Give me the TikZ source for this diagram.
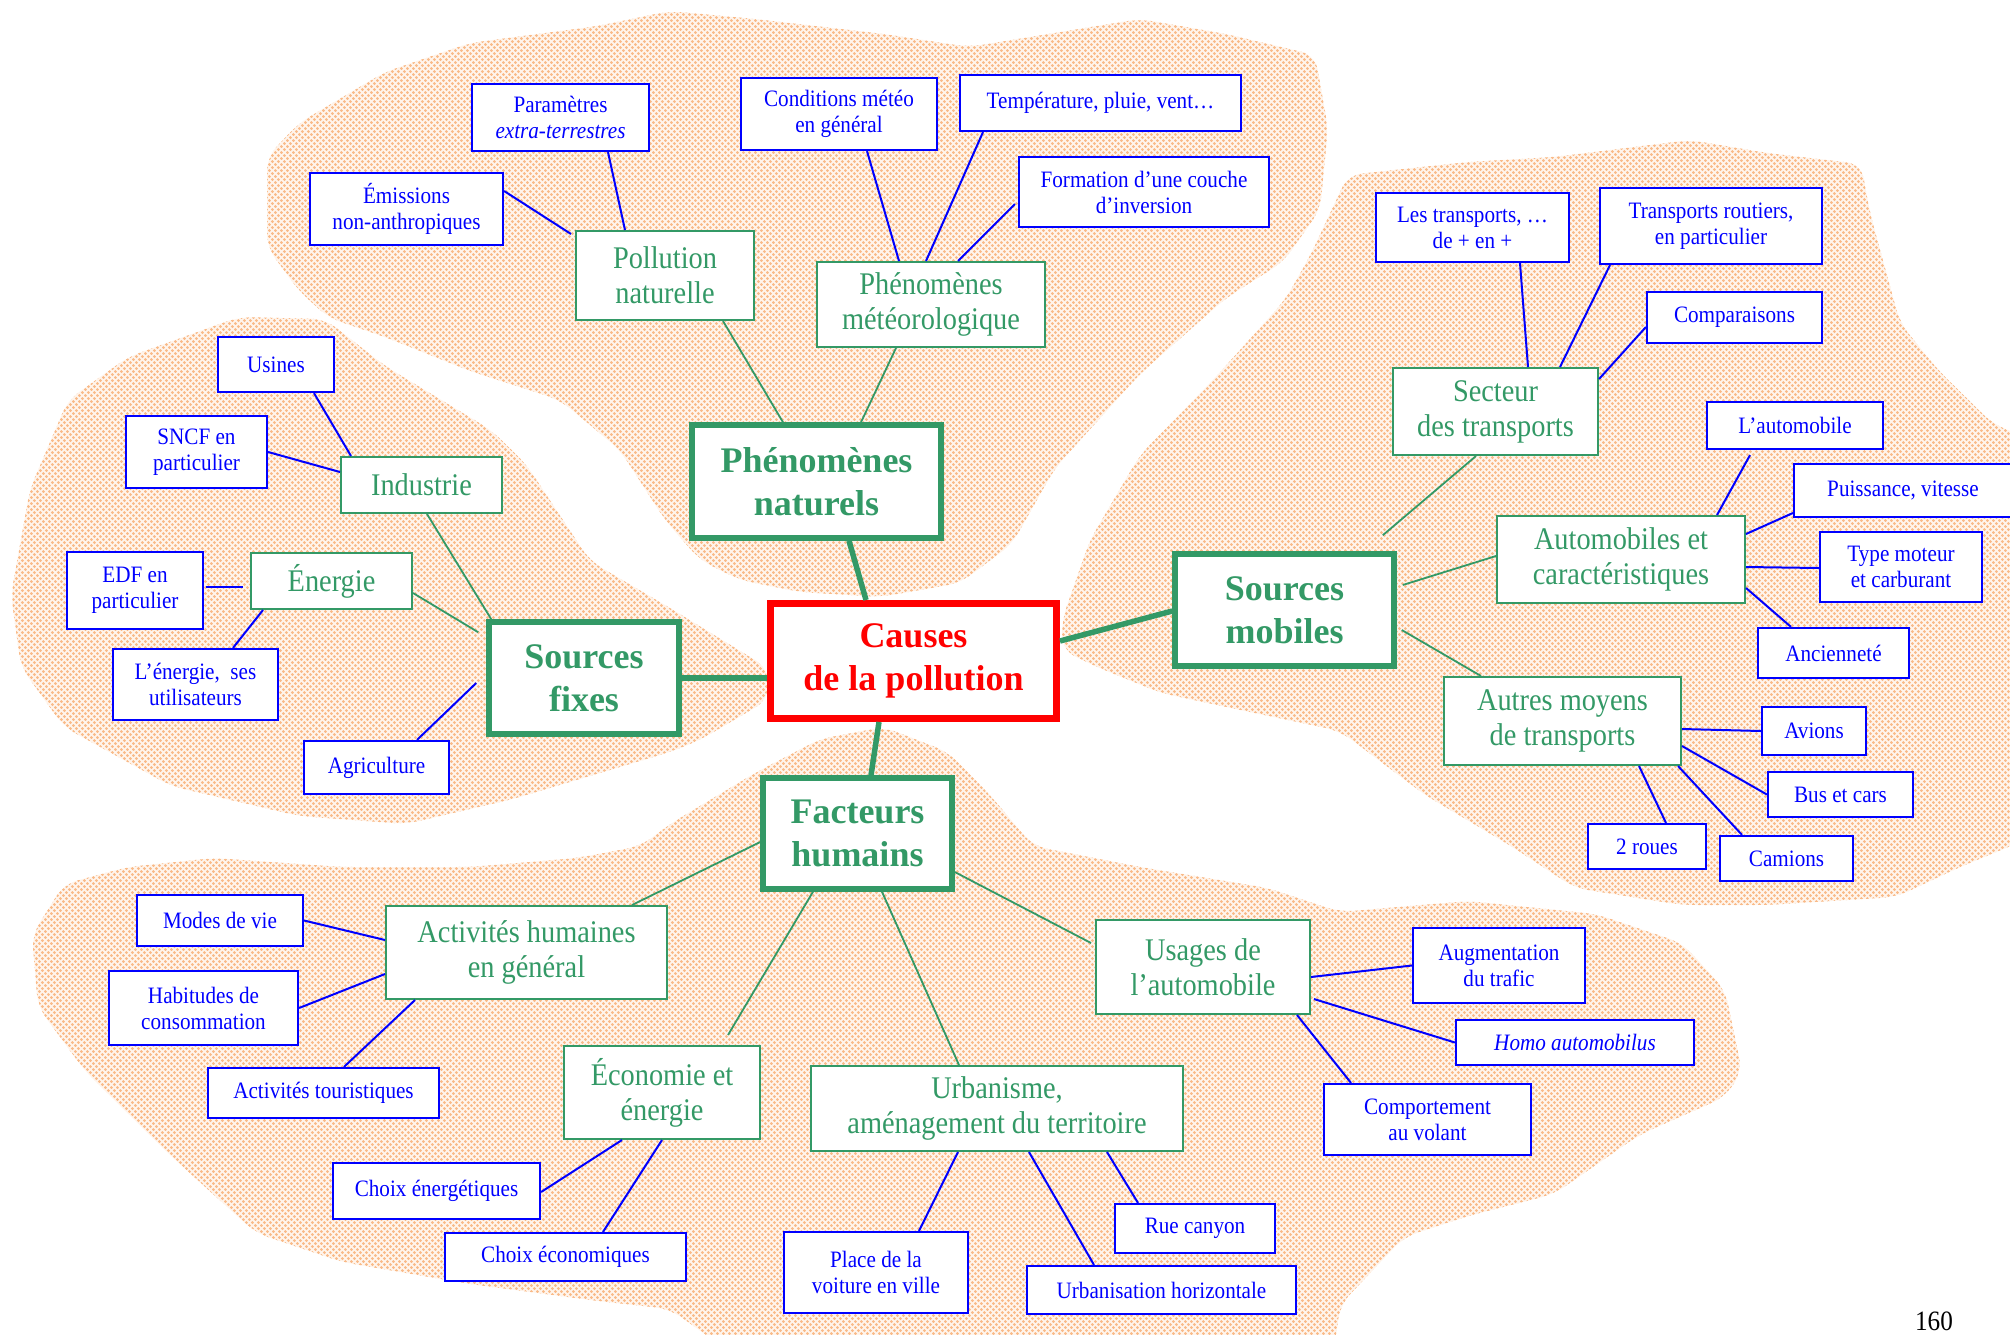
\documentclass[tikz,border=0pt]{standalone}
\usepackage{fontspec}
\setmainfont{Liberation Serif}
\newfontfamily\condser[FakeStretch=0.9]{Liberation Serif}
\usetikzlibrary{calc,patterns}
\definecolor{bluec}{RGB}{0,0,255}
\definecolor{greenc}{RGB}{51,153,102}
\definecolor{redc}{RGB}{255,0,0}
\definecolor{dotc}{RGB}{249,186,136}
\definecolor{blobbase}{RGB}{255,244,235}
\pgfdeclarepatternformonly{odots}{\pgfpoint{0pt}{0pt}}{\pgfpoint{6.4pt}{6.4pt}}{\pgfpoint{6.4pt}{6.4pt}}{\pgfpathcircle{\pgfpoint{1.6pt}{1.6pt}}{1.65pt}\pgfpathcircle{\pgfpoint{4.8pt}{4.8pt}}{1.65pt}\pgfusepath{fill}}
\newcommand\myblue{\condser\fontsize{23.5}{26}\selectfont}
\newcommand\mygreen{\condser\fontsize{31.5}{35}\selectfont}
\newcommand\mybig{\bfseries\fontsize{36}{42.5}\selectfont}
\tikzset{
  blob/.style={fill=blobbase, rounded corners=14pt, postaction={pattern=odots, pattern color=dotc}},
  bl/.style={draw=bluec, line width=2.2pt, fill=white, inner sep=0pt, align=center, text=bluec, font=\myblue},
  gr/.style={draw=greenc, line width=2pt, fill=white, inner sep=0pt, align=center, text=greenc, font=\mygreen},
  bigbox/.style={draw=greenc, line width=5.5pt, fill=white, inner sep=0pt, align=center, text=greenc, font=\mybig},
  causebox/.style={draw=redc, line width=7pt, fill=white, inner sep=0pt, align=center, text=redc, font=\mybig},
  bline/.style={draw=bluec, line width=2pt},
  gline/.style={draw=greenc, line width=1.8pt},
  tline/.style={draw=greenc, line width=5.5pt},
}
\begin{document}
\begin{tikzpicture}[x=1pt,y=-1pt]
\useasboundingbox (0,0) rectangle (2010,1334);
% background blobs
\path[blob] (267,157) -- (299,123) -- (385,72) -- (470,43) -- (598,26) -- (670,11) -- (755,19) -- (884,34) -- (969,47) -- (1140,19) -- (1226,34) -- (1315,55) -- (1328,128) -- (1320,210) -- (1283,262) -- (1226,298) -- (1140,374) -- (1055,468) -- (1012,544) -- (960,583) -- (880,597) -- (800,592) -- (740,580) -- (700,560) -- (665,520) -- (620,450) -- (560,400) -- (470,371) -- (385,337) -- (329,318) -- (299,291) -- (267,247) -- cycle;
\path[blob] (68,400) -- (128,357) -- (239,317) -- (325,319) -- (385,366) -- (491,430) -- (526,464) -- (590,561) -- (670,608) -- (768,668) -- (768,700) -- (700,740) -- (670,752) -- (513,799) -- (406,824) -- (299,816) -- (171,786) -- (64,727) -- (21,667) -- (11,595) -- (30,489) -- cycle;
\path[blob] (1348,175) -- (1468,162) -- (1554,157) -- (1690,140) -- (1767,153) -- (1861,164) -- (1870,213) -- (1900,323) -- (1938,370) -- (1994,425) -- (2030,438) -- (2030,838) -- (1960,867) -- (1896,897) -- (1767,905) -- (1682,905) -- (1575,888) -- (1511,846) -- (1425,795) -- (1340,731) -- (1250,712) -- (1161,693) -- (1097,667) -- (1062,650) -- (1062,620) -- (1090,540) -- (1140,455) -- (1213,380) -- (1285,300) -- (1310,256) -- cycle;
\path[blob] (64,884) -- (128,867) -- (214,858) -- (342,867) -- (470,867) -- (577,858) -- (641,846) -- (670,824) -- (755,773) -- (820,739) -- (884,727) -- (948,752) -- (990,795) -- (1033,846) -- (1140,867) -- (1268,888) -- (1340,912) -- (1468,901) -- (1596,914) -- (1682,943) -- (1725,990) -- (1742,1071) -- (1725,1097) -- (1639,1135) -- (1554,1194) -- (1468,1216) -- (1404,1237) -- (1340,1305) -- (1335,1345) -- (720,1345) -- (670,1309) -- (598,1301) -- (470,1284) -- (342,1262) -- (256,1233) -- (171,1156) -- (85,1071) -- (38,1007) -- (32,935) -- cycle;
% blue boxes
\node[bl, minimum width=177, minimum height=67] (par) at (560.5,117.5) {Paramètres\\\textit{extra-terrestres}};
\node[bl, minimum width=193, minimum height=72] (emi) at (406.5,209) {Émissions\\non-anthropiques};
\node[bl, minimum width=196, minimum height=72] (cond) at (839,114) {Conditions météo\\en général};
\node[bl, minimum width=281, minimum height=56] (temp) at (1100.5,103) {Température, pluie, vent…};
\node[bl, minimum width=250, minimum height=70] (form) at (1144,192) {Formation d’une couche\\d’inversion};
\node[bl, minimum width=116, minimum height=55] (usines) at (276,364.5) {Usines};
\node[bl, minimum width=141, minimum height=72] (sncf) at (196.5,452) {SNCF en\\particulier};
\node[bl, minimum width=136, minimum height=77] (edf) at (135,590.5) {EDF en\\particulier};
\node[bl, minimum width=165, minimum height=71] (lener) at (195.5,684.5) {L’énergie,\ \ ses\\utilisateurs};
\node[bl, minimum width=145, minimum height=53] (agri) at (376.5,767.5) {Agriculture};
\node[bl, minimum width=193, minimum height=69] (lestr) at (1472.5,227.5) {Les transports, …\\de + en +};
\node[bl, minimum width=222, minimum height=76] (troute) at (1711,226) {Transports routiers,\\en particulier};
\node[bl, minimum width=175, minimum height=51] (comp) at (1734.5,317.5) {Comparaisons};
\node[bl, minimum width=176, minimum height=47] (lauto) at (1795,425.5) {L’automobile};
\node[bl, minimum width=218, minimum height=53] (puiss) at (1903,490.5) {Puissance, vitesse};
\node[bl, minimum width=162, minimum height=70] (typem) at (1901,567) {Type moteur\\et carburant};
\node[bl, minimum width=151, minimum height=50] (ancien) at (1833.5,653) {Ancienneté};
\node[bl, minimum width=104, minimum height=48] (avions) at (1814,731) {Avions};
\node[bl, minimum width=145, minimum height=45] (bus) at (1840.5,794.5) {Bus et cars};
\node[bl, minimum width=118, minimum height=45] (roues) at (1647,846.5) {2 roues};
\node[bl, minimum width=133, minimum height=45] (camions) at (1786.5,858.5) {Camions};
\node[bl, minimum width=172, minimum height=75] (augm) at (1499,965.5) {Augmentation\\du trafic};
\node[bl, minimum width=238, minimum height=45] (homo) at (1575,1042.5) {\textit{Homo automobilus}};
\node[bl, minimum width=207, minimum height=71] (compor) at (1427.5,1119.5) {Comportement\\au volant};
\node[bl, minimum width=160, minimum height=49] (rue) at (1195,1228.5) {Rue canyon};
\node[bl, minimum width=269, minimum height=48] (urbh) at (1161.5,1290) {Urbanisation horizontale};
\node[bl, minimum width=184, minimum height=81] (place) at (876,1272.5) {Place de la\\voiture en ville};
\node[bl, minimum width=241, minimum height=48] (choixeco) at (565.5,1257) {Choix économiques};
\node[bl, minimum width=207, minimum height=56] (choixen) at (436.5,1191) {Choix énergétiques};
\node[bl, minimum width=231, minimum height=50] (tour) at (323.5,1093) {Activités touristiques};
\node[bl, minimum width=189, minimum height=74] (habit) at (203.5,1008) {Habitudes de\\consommation};
\node[bl, minimum width=166, minimum height=51] (modes) at (220,920.5) {Modes de vie};
% green boxes
\node[gr, minimum width=178, minimum height=89] (poll) at (665,275.5) {Pollution\\naturelle};
\node[gr, minimum width=228, minimum height=85] (meteo) at (931,304.5) {Phénomènes\\météorologique};
\node[gr, minimum width=161, minimum height=56] (indus) at (421.5,485) {Industrie};
\node[gr, minimum width=161, minimum height=56] (ener) at (331.5,581) {Énergie};
\node[gr, minimum width=205, minimum height=87] (secteur) at (1495.5,411.5) {Secteur\\des transports};
\node[gr, minimum width=248, minimum height=87] (autos) at (1621,559.5) {Automobiles et\\caractéristiques};
\node[gr, minimum width=237, minimum height=88] (autres) at (1562.5,721) {Autres moyens\\de transports};
\node[gr, minimum width=281, minimum height=93] (activ) at (526.5,952.5) {Activités humaines\\en général};
\node[gr, minimum width=196, minimum height=93] (econ) at (662,1092.5) {Économie et\\énergie};
\node[gr, minimum width=372, minimum height=85] (urban) at (997,1108.5) {Urbanisme,\\aménagement du territoire};
\node[gr, minimum width=214, minimum height=94] (usages) at (1203,967) {Usages de\\l’automobile};
% big boxes
\node[bigbox, minimum width=249, minimum height=113] (phen) at (816.5,481.5) {Phénomènes\\naturels};
\node[bigbox, minimum width=190, minimum height=112] (fixes) at (584,678) {Sources\\fixes};
\node[bigbox, minimum width=219, minimum height=112] (mobiles) at (1284.5,610) {Sources\\mobiles};
\node[bigbox, minimum width=189, minimum height=111] (fact) at (857.5,833.5) {Facteurs\\humains};
\node[causebox, minimum width=286, minimum height=115] (causes) at (913.5,661) {Causes\\de la pollution};
% page number
\node[font=\condser\fontsize{28}{28}\selectfont, anchor=base, inner sep=0pt] (pnum) at (1934,1330) {160};
% blue connectors
\draw[bline] ($(par.south)+(47.5,0)$) -- ($(poll.north)+(-40,0)$);
\draw[bline] ($(emi.east)+(0,-18)$) -- ($(poll.north west)+(-4,4)$);
\draw[bline] ($(cond.south)+(28,0)$) -- ($(meteo.north)+(-32,0)$);
\draw[bline] ($(temp.south)+(-117.5,0)$) -- ($(meteo.north)+(-5,0)$);
\draw[bline] ($(form.west)+(-3,12)$) -- ($(meteo.north)+(27,0)$);
\draw[bline] ($(usines.south)+(38,0)$) -- ($(indus.north)+(-70.5,0)$);
\draw[bline] (sncf.east) -- ($(indus.west)+(0,-13)$);
\draw[bline] ($(edf.east)+(2,-3.5)$) -- ($(ener.west)+(-7,6)$);
\draw[bline] ($(ener.south)+(-68.5,0)$) -- ($(lener.north)+(37.5,0)$);
\draw[bline] ($(agri.north)+(40.5,0)$) -- ($(fixes.west)+(-10,5)$);
\draw[bline] ($(lestr.south)+(47.5,0)$) -- ($(secteur.north)+(32.5,0)$);
\draw[bline] ($(troute.south)+(-101,0)$) -- ($(secteur.north)+(64.5,0)$);
\draw[bline] ($(comp.west)+(0,9.5)$) -- ($(secteur.east)+(0,-32.5)$);
\draw[bline] ($(lauto.south)+(-45,5)$) -- ($(autos.north)+(96,0)$);
\draw[bline] ($(puiss.west)+(0,22.5)$) -- ($(autos.east)+(0,-25.5)$);
\draw[bline] ($(typem.west)+(0,1)$) -- ($(autos.east)+(0,7.5)$);
\draw[bline] ($(ancien.north)+(-42.5,0)$) -- ($(autos.east)+(0,28.5)$);
\draw[bline] ($(autres.east)+(0,8)$) -- (avions.west);
\draw[bline] ($(autres.east)+(0,25)$) -- (bus.west);
\draw[bline] ($(autres.south)+(76.5,0)$) -- ($(roues.north)+(19,0)$);
\draw[bline] ($(autres.south)+(115.5,0)$) -- ($(camions.north)+(-44.5,0)$);
\draw[bline] ($(usages.east)+(0,10)$) -- (augm.west);
\draw[bline] ($(usages.east)+(3,32)$) -- (homo.west);
\draw[bline] ($(usages.south)+(94,0)$) -- ($(compor.north)+(-76.5,0)$);
\draw[bline] ($(urban.south)+(-39,0)$) -- ($(place.north)+(43,0)$);
\draw[bline] ($(urban.south)+(32,0)$) -- ($(urbh.north)+(-67.5,0)$);
\draw[bline] ($(urban.south)+(110,0)$) -- ($(rue.north)+(-57,0)$);
\draw[bline] ($(econ.south)+(-40,0)$) -- ($(choixen.east)+(0,1)$);
\draw[bline] (econ.south) -- ($(choixeco.north)+(37.5,0)$);
\draw[bline] ($(activ.south)+(-111.5,0)$) -- ($(tour.north)+(20.5,0)$);
\draw[bline] (modes.east) -- ($(activ.west)+(0,-12.5)$);
\draw[bline] (habit.east) -- ($(activ.west)+(0,21.5)$);
% green connectors
\draw[gline] ($(poll.south)+(58,0)$) -- ($(phen.north)+(-33.5,0)$);
\draw[gline] ($(meteo.south)+(-35,0)$) -- ($(phen.north)+(44.5,0)$);
\draw[gline] ($(indus.south)+(5.5,0)$) -- ($(fixes.north west)+(5,0)$);
\draw[gline] ($(ener.east)+(0,12)$) -- ($(fixes.north west)+(-8,13)$);
\draw[gline] ($(secteur.south)+(-19.5,0)$) -- ($(mobiles.north east)+(-14,-16)$);
\draw[gline] ($(autos.west)+(0,-3.5)$) -- ($(mobiles.east)+(6,-25)$);
\draw[gline] ($(mobiles.east)+(5,20)$) -- ($(autres.north)+(-81.5,0)$);
\draw[gline] ($(fact.west)+(0,8.5)$) -- ($(activ.north)+(105.5,0)$);
\draw[gline] ($(fact.south)+(-44.5,0)$) -- ($(econ.north)+(66,-10)$);
\draw[gline] ($(fact.south)+(24.5,0)$) -- ($(urban.north)+(-38,0)$);
\draw[gline] ($(fact.east)+(0,38.5)$) -- ($(usages.west)+(-4,-24)$);
% thick connectors
\draw[tline] ($(phen.south)+(32.5,0)$) -- ($(causes.north)+(-47.5,0)$);
\draw[tline] (fixes.east) -- ($(causes.west)+(0,17)$);
\draw[tline] ($(causes.east)+(0,-20)$) -- ($(mobiles.west)+(0,1)$);
\draw[tline] ($(causes.south)+(-34.5,0)$) -- ($(fact.north)+(13.5,0)$);
\end{tikzpicture}
\end{document}
